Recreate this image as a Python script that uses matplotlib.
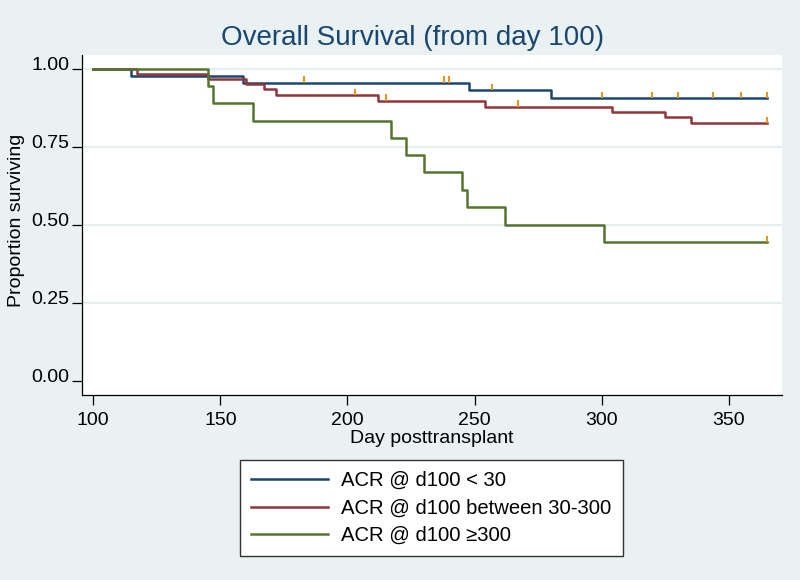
import numpy as np
import matplotlib
matplotlib.use("Agg")
import matplotlib.pyplot as plt
from matplotlib.transforms import ScaledTranslation

plt.rcParams['font.family'] = ['Liberation Sans', 'DejaVu Sans']

# ---- data ----
labels = ["ACR @ d100 < 30", "ACR @ d100 between 30-300", "ACR @ d100 \u2265300"]

blue_t = [100, 115, 159, 248, 280, 365]
blue_s = [1.0, 0.976, 0.955, 0.932, 0.906, 0.906]
blue_cens = [183, 238, 240, 257, 300, 320, 330, 344, 355, 365]

red_t = [100, 117, 145, 160, 167, 172, 212, 254, 304, 325, 335, 365]
red_s = [1.0, 0.982, 0.966, 0.950, 0.933, 0.915, 0.897, 0.878, 0.861, 0.844, 0.825, 0.825]
red_cens = [203, 215, 267, 365]

green_t = [100, 145, 147, 163, 217, 223, 230, 245, 247, 262, 301, 365]
green_s = [1.0, 0.944, 0.889, 0.833, 0.778, 0.722, 0.667, 0.611, 0.556, 0.5, 0.444, 0.444]
green_cens = [365]

xticks = [100, 150, 200, 250, 300, 350]
yticks = [0.0, 0.25, 0.5, 0.75, 1.0]
ytick_labels = ["0.00", "0.25", "0.50", "0.75", "1.00"]

colors = ["#1A476F", "#90353B", "#55752F"]
cens_color = "#E8961E"
bg = "#EAF1F3"

fig = plt.figure(figsize=(8, 5.8), dpi=100, facecolor=bg)
ax = fig.add_axes([0.102, 0.319, 0.875, 0.586])
ax.set_facecolor("white")

for yv in [0.25, 0.5, 0.75, 1.0]:
    ax.axhline(yv, color="#E6EEF0", lw=1.6, zorder=1)

series = [(blue_t, blue_s, blue_cens), (red_t, red_s, red_cens), (green_t, green_s, green_cens)]
handles = []
for (t, s, c), col, lab in zip(series, colors, labels):
    h, = ax.step(t, s, where="post", color=col, lw=1.8, label=lab, zorder=3)
    handles.append(h)
    t_arr = np.asarray(t)
    s_arr = np.asarray(s)
    idx = np.searchsorted(t_arr, np.asarray(c), side="right") - 1
    cy = s_arr[idx]
    ax.vlines(c, cy, cy + 0.02, color=cens_color, lw=1.5, zorder=4)

ax.set_xlim(95.4, 370.8)
ax.set_ylim(-0.046, 1.043)
ax.set_xticks(xticks)
ax.set_yticks(yticks)
ax.set_yticklabels(ytick_labels)

for sp in ["top", "right"]:
    ax.spines[sp].set_visible(False)
for sp in ["left", "bottom"]:
    ax.spines[sp].set_color("black")
    ax.spines[sp].set_linewidth(0.9)

ax.tick_params(axis="both", direction="out", length=7, width=0.9, color="black",
               labelsize=14, labelcolor="black")
ax.tick_params(axis="x", pad=5)
ax.tick_params(axis="y", pad=2)
off = ScaledTranslation(0, 0.05, fig.dpi_scale_trans)
for lab in ax.get_yticklabels():
    lab.set_transform(lab.get_transform() + off)

ax.set_xlabel("Day posttransplant", fontsize=14, labelpad=1)
ax.set_ylabel("Proportion surviving", fontsize=14)
ax.yaxis.set_label_coords(-0.081, 0.515)

fig.text(0.516, 0.934, "Overall Survival (from day 100)", ha="center", va="center",
         fontsize=20, color="#1A476F")

leg = fig.legend(handles=handles, labels=labels, loc="upper center",
                 bbox_to_anchor=(0.539, 0.2069), fontsize=14.6, frameon=True,
                 fancybox=False, framealpha=1.0, handlelength=3.8, handletextpad=0.65,
                 labelspacing=0.42, borderpad=0.55, borderaxespad=0)
leg.get_frame().set_edgecolor("#333333")
leg.get_frame().set_linewidth(1.0)
leg.get_frame().set_facecolor("white")

fig.savefig("out.png", dpi=100, facecolor=bg)
